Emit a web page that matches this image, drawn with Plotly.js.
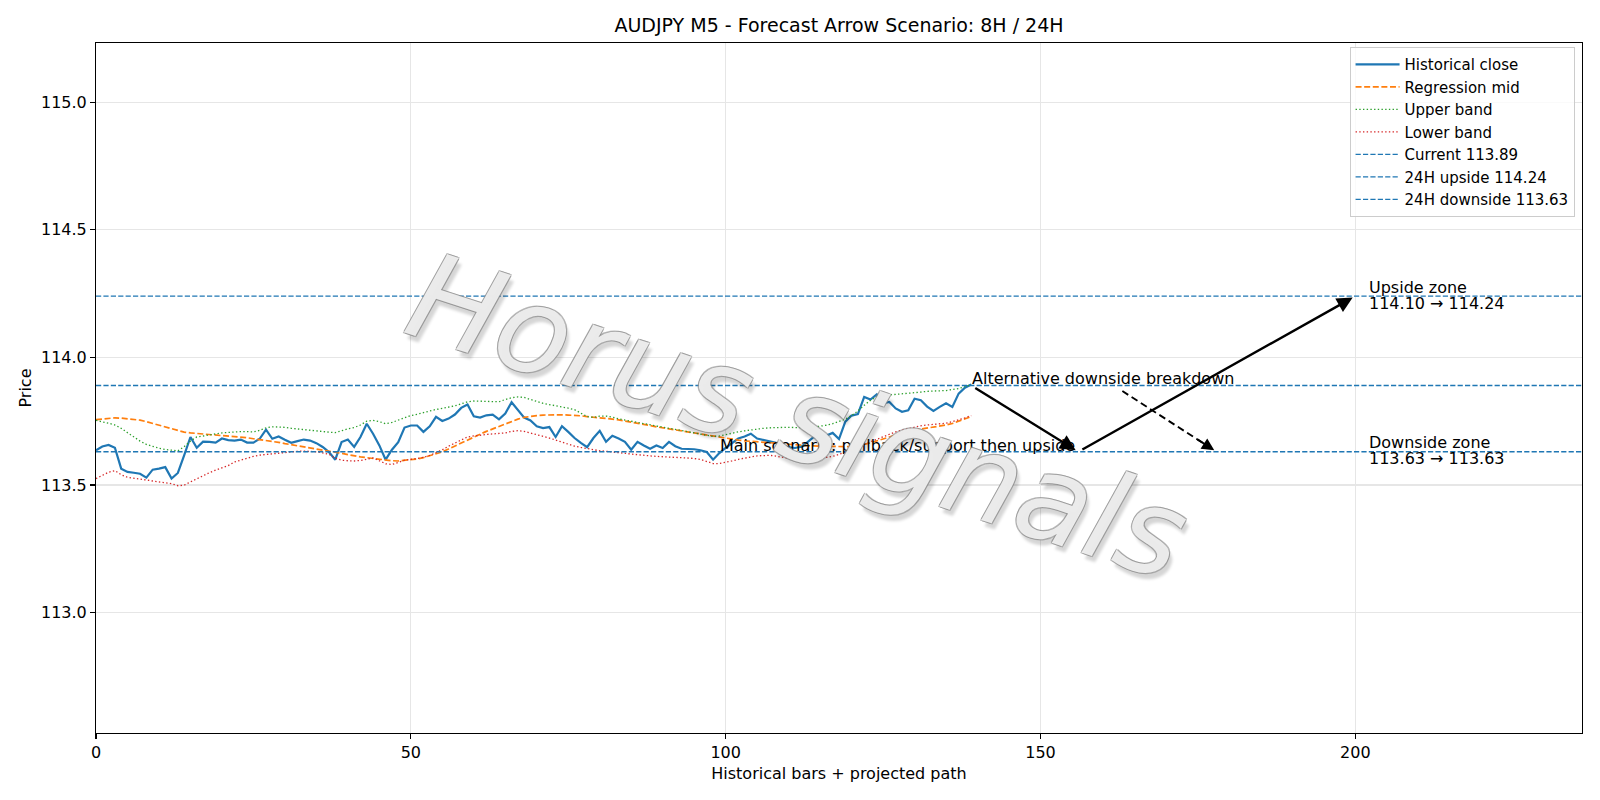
<!DOCTYPE html>
<html>
<head>
<meta charset="utf-8">
<script src="https://cdn.plot.ly/plotly-3.0.1.min.js"></script>
<style>html,body{margin:0;padding:0;background:#fff;}#chart{width:1600px;height:800px;}</style>
</head>
<body>
<div id="chart"></div>
<script>
// ---- data ----
const close = [113.636,113.651,113.657,113.646,113.564,113.551,113.548,113.544,113.529,113.560,
113.564,113.570,113.525,113.547,113.616,113.688,113.646,113.670,113.669,113.666,
113.682,113.676,113.674,113.678,113.666,113.666,113.681,113.717,113.681,113.690,
113.677,113.665,113.672,113.678,113.674,113.664,113.649,113.629,113.599,113.668,
113.678,113.649,113.688,113.740,113.701,113.655,113.599,113.638,113.668,113.725,
113.733,113.733,113.708,113.730,113.767,113.751,113.760,113.776,113.802,113.815,
113.769,113.764,113.773,113.776,113.757,113.780,113.824,113.796,113.764,113.753,
113.730,113.723,113.727,113.688,113.730,113.708,113.684,113.665,113.648,113.684,
113.712,113.669,113.693,113.682,113.669,113.638,113.669,113.655,113.642,113.655,
113.645,113.669,113.652,113.642,113.641,113.640,113.636,113.629,113.599,113.625,
113.645,113.662,113.682,113.690,113.701,113.682,113.676,113.672,113.665,113.655,
113.648,113.645,113.650,113.668,113.688,113.683,113.692,113.704,113.680,113.748,
113.772,113.778,113.845,113.835,113.855,113.820,113.825,113.800,113.787,113.793,
113.838,113.832,113.807,113.790,113.806,113.820,113.806,113.858,113.881,113.894];

const regressionMid = [113.756,113.759,113.762,113.763,113.762,113.760,113.757,113.754,113.748,113.741,
113.733,113.725,113.718,113.712,113.707,113.704,113.702,113.700,113.698,113.696,
113.695,113.693,113.690,113.688,113.685,113.681,113.678,113.675,113.671,113.667,
113.662,113.658,113.654,113.650,113.646,113.642,113.638,113.634,113.629,113.624,
113.619,113.614,113.610,113.607,113.604,113.601,113.597,113.595,113.594,113.596,
113.598,113.602,113.607,113.614,113.621,113.630,113.641,113.653,113.666,113.678,
113.689,113.699,113.710,113.720,113.730,113.741,113.750,113.758,113.765,113.769,
113.772,113.774,113.775,113.775,113.775,113.774,113.773,113.771,113.768,113.766,
113.764,113.761,113.758,113.755,113.751,113.747,113.742,113.738,113.733,113.728,
113.724,113.719,113.715,113.711,113.707,113.703,113.699,113.694,113.690,113.686,
113.682,113.679,113.676,113.673,113.671,113.669,113.667,113.665,113.662,113.660,
113.658,113.656,113.655,113.654,113.653,113.652,113.651,113.650,113.650,113.650,
113.651,113.654,113.659,113.665,113.672,113.680,113.688,113.696,113.704,113.710,
113.715,113.719,113.722,113.726,113.730,113.735,113.741,113.749,113.758,113.768];

const upperBand = [113.753,113.748,113.742,113.735,113.722,113.705,113.688,113.672,113.659,113.650,
113.644,113.639,113.636,113.634,113.650,113.672,113.688,113.693,113.697,113.700,
113.704,113.706,113.708,113.709,113.709,113.708,113.714,113.724,113.728,113.728,
113.726,113.722,113.719,113.717,113.715,113.713,113.710,113.707,113.705,113.714,
113.720,113.725,113.735,113.750,113.753,113.748,113.740,113.745,113.755,113.765,
113.772,113.777,113.784,113.790,113.796,113.800,113.805,113.810,113.818,113.826,
113.829,113.828,113.826,113.825,113.826,113.835,113.842,113.845,113.843,113.835,
113.826,113.820,113.815,113.811,113.807,113.801,113.795,113.782,113.768,113.765,
113.770,113.770,113.766,113.759,113.754,113.749,113.745,113.740,113.735,113.730,
113.726,113.722,113.718,113.713,113.707,113.702,113.698,113.694,113.690,113.692,
113.698,113.703,113.708,113.712,113.716,113.720,113.722,113.724,113.725,113.726,
113.726,113.725,113.724,113.725,113.727,113.730,113.734,113.740,113.748,113.758,
113.772,113.790,113.812,113.832,113.845,113.850,113.853,113.855,113.857,113.858,
113.860,113.864,113.867,113.868,113.868,113.870,113.874,113.878,113.885,113.894];

const lowerBand = [113.525,113.538,113.550,113.556,113.540,113.530,113.526,113.522,113.519,113.516,
113.512,113.509,113.505,113.497,113.499,113.512,113.525,113.537,113.548,113.558,
113.566,113.576,113.590,113.598,113.606,113.612,113.617,113.620,113.623,113.625,
113.627,113.630,113.632,113.633,113.632,113.630,113.626,113.620,113.605,113.597,
113.595,113.594,113.596,113.602,113.606,113.595,113.583,113.580,113.588,113.597,
113.600,113.604,113.608,113.616,113.626,113.638,113.652,113.665,113.678,113.688,
113.692,113.696,113.698,113.700,113.702,113.704,113.710,113.713,113.710,113.704,
113.698,113.691,113.684,113.676,113.668,113.658,113.652,113.647,113.642,113.638,
113.634,113.632,113.630,113.627,113.624,113.621,113.618,113.616,113.614,113.612,
113.610,113.609,113.608,113.607,113.606,113.604,113.600,113.592,113.584,113.584,
113.588,113.594,113.600,113.606,113.610,113.614,113.616,113.616,113.613,113.608,
113.604,113.601,113.599,113.598,113.600,113.604,113.607,113.612,113.620,113.628,
113.638,113.650,113.660,113.670,113.680,113.690,113.700,113.708,113.715,113.721,
113.727,113.732,113.735,113.737,113.738,113.742,113.748,113.755,113.763,113.772];

const levelNames = ["Current", "24H upside", "24H downside"];
const levelValues = [113.89, 114.24, 113.63];

const mainPathX = [139, 156, 200];
const mainPathY = [113.89, 113.63, 114.24];
const altPathX = [163, 177.6];
const altPathY = [113.868, 113.636];

const upsideZone = [114.10, 114.24];
const downsideZone = [113.63, 113.63];

const xRange = [0, 236];
const yRange = [112.528, 115.232];
const xTicks = [0, 50, 100, 150, 200];
const yTicks = [113.0, 113.5, 114.0, 114.5, 115.0];

const mainLabel = "Main scenario: pullback/support then upside";
const altLabel = "Alternative downside breakdown";
const mainLabelX = 99;
const zoneLabelX = 202;

// ---- drawing ----
const FONT = "DejaVu Sans, Liberation Sans, sans-serif";
const FS = 16;
const idx = close.map((_, i) => i);

const traces = [
  {x: idx, y: close, mode: "lines", name: "Historical close",
   line: {color: "#1f77b4", width: 2.2}},
  {x: idx, y: regressionMid, mode: "lines", name: "Regression mid",
   line: {color: "#ff7f0e", width: 1.7, dash: "6px,2.6px"}},
  {x: idx, y: upperBand, mode: "lines", name: "Upper band",
   line: {color: "#2ca02c", width: 1.3, dash: "1.4px,2.3px"}},
  {x: idx, y: lowerBand, mode: "lines", name: "Lower band",
   line: {color: "#d62728", width: 1.3, dash: "1.4px,2.3px"}},
];
levelNames.forEach((n, k) => {
  traces.push({x: xRange, y: [levelValues[k], levelValues[k]], mode: "lines",
    name: n + " " + levelValues[k].toFixed(2),
    line: {color: "#1f77b4", width: 1.4, dash: "5.2px,2.2px"}});
});
traces.push({x: altPathX, y: altPathY, mode: "lines", showlegend: false, hoverinfo: "skip",
  line: {color: "#000", width: 1.9, dash: "7px,4px"}});

const annotations = [];
// solid main-path arrows
for (let k = 0; k < mainPathX.length - 1; k++) {
  annotations.push({x: mainPathX[k+1], y: mainPathY[k+1], ax: mainPathX[k], ay: mainPathY[k],
    xref: "x", yref: "y", axref: "x", ayref: "y", text: "", showarrow: true,
    arrowhead: 2, arrowsize: 1.3, arrowwidth: 2.4, arrowcolor: "#000",
    standoff: 3, startstandoff: 3});
}
// dashed alternative arrow head
const tHead = 0.8;
annotations.push({x: altPathX[1], y: altPathY[1],
  ax: altPathX[0] + (altPathX[1]-altPathX[0])*tHead, ay: altPathY[0] + (altPathY[1]-altPathY[0])*tHead,
  xref: "x", yref: "y", axref: "x", ayref: "y", text: "", showarrow: true,
  arrowhead: 2, arrowsize: 1.3, arrowwidth: 1.9, arrowcolor: "#000", standoff: 0});

function label(txt, x, y, shift) {
  return {x: x, y: y, xref: "x", yref: "y", text: txt, showarrow: false,
    xanchor: "left", yanchor: "bottom", yshift: shift, borderpad: 0,
    font: {family: FONT, size: FS, color: "#000"}};
}
annotations.push(label(mainLabel, mainLabelX, levelValues[2], -4));
annotations.push(label(altLabel, mainPathX[0], mainPathY[0], -4));
annotations.push(label("Upside zone", zoneLabelX, upsideZone[1], -2));
annotations.push(label(upsideZone[0].toFixed(2) + " \u2192 " + upsideZone[1].toFixed(2), zoneLabelX, upsideZone[1], -18));
annotations.push(label("Downside zone", zoneLabelX, downsideZone[1], -1.5));
annotations.push(label(downsideZone[0].toFixed(2) + " \u2192 " + downsideZone[1].toFixed(2), zoneLabelX, downsideZone[1], -17.5));

// watermark
const sh = "rgba(140,140,140,0.75)";
annotations.push({xref: "paper", yref: "paper", x: 0.472, y: 0.458, xanchor: "center", yanchor: "middle",
  text: "Horus signals", showarrow: false, textangle: 18,
  font: {family: FONT, size: 120, style: "italic", color: "rgba(255,255,255,0.82)",
    shadow: "-1px -1px 0 " + sh + ", 1px -1px 0 " + sh + ", -1px 1px 0 " + sh + ", 1px 1px 0 " + sh + ", 5px 5px 3px rgba(0,0,0,0.2)"}});

const axisCommon = {
  showline: true, mirror: true, linecolor: "#000", linewidth: 1.1,
  ticks: "outside", ticklen: 4.9, tickwidth: 1.1, tickcolor: "#000",
  showgrid: true, gridcolor: "#e6e6e6", gridwidth: 1.1, zeroline: false,
  tickfont: {family: FONT, size: FS, color: "#000"}
};

const layout = {
  width: 1600, height: 800,
  margin: {l: 96, r: 18, t: 43, b: 67},
  paper_bgcolor: "#fff", plot_bgcolor: "#fff",
  font: {family: FONT, size: FS, color: "#000"},
  title: {text: "AUDJPY M5 - Forecast Arrow Scenario: 8H / 24H", x: 0.5, xref: "paper",
    y: 1 - 25.5/800, yanchor: "middle", font: {family: FONT, size: 19, color: "#000"}},
  xaxis: Object.assign({}, axisCommon, {range: xRange, tickvals: xTicks, ticktext: xTicks.map(String),
    title: {text: "Historical bars + projected path", standoff: 6, font: {family: FONT, size: FS, color: "#000"}}}),
  yaxis: Object.assign({}, axisCommon, {range: yRange, tickvals: yTicks, ticktext: yTicks.map(v => v.toFixed(1)),
    title: {text: "Price", standoff: 5, font: {family: FONT, size: FS, color: "#000"}}}),
  legend: {x: 0.995, y: 0.994, xanchor: "right", yanchor: "top", itemwidth: 44,
    bgcolor: "rgba(255,255,255,0.8)", bordercolor: "#cccccc", borderwidth: 1,
    font: {family: FONT, size: 15, color: "#000"}, tracegroupgap: 0},
  showlegend: true,
  annotations: annotations
};

Plotly.newPlot("chart", traces, layout, {displayModeBar: false, staticPlot: true});
</script>
</body>
</html>
